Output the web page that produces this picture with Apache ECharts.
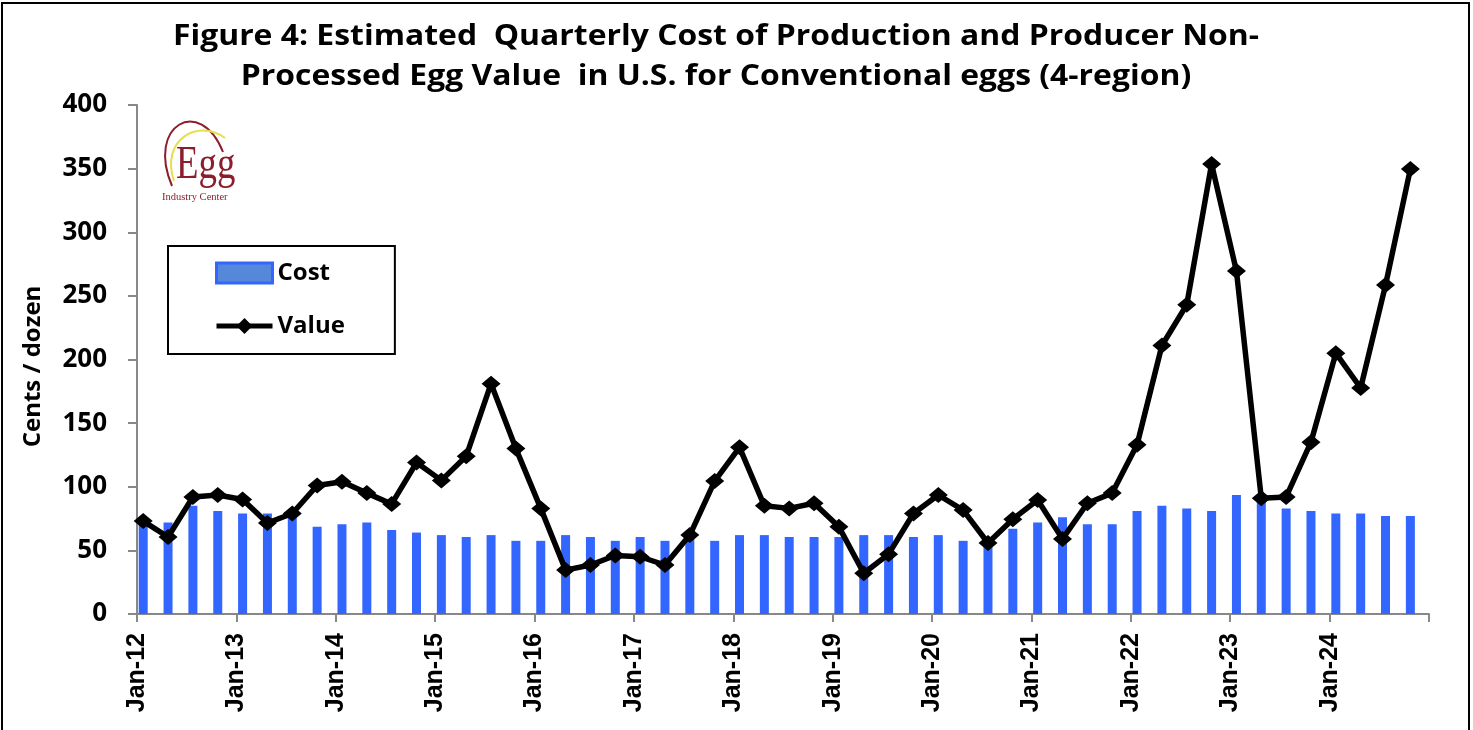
<!DOCTYPE html>
<html>
<head>
<meta charset="utf-8">
<title>Egg cost vs value</title>
<script src="https://cdn.jsdelivr.net/npm/echarts@6/dist/echarts.min.js"></script>
<style>
  html, body { margin: 0; padding: 0; background: #fff; }
  #chart { width: 1473px; height: 730px; }
</style>
</head>
<body>
<div id="chart"></div>
<script>
// quarterly data, Jan-12 .. Oct-24 (cents / dozen)
var titleLines = [
  'Figure 4: Estimated  Quarterly Cost of Production and Producer Non-',
  'Processed Egg Value  in U.S. for Conventional eggs (4-region)'
];
var tickLabels = ['Jan-12', 'Jan-13', 'Jan-14', 'Jan-15', 'Jan-16', 'Jan-17', 'Jan-18',
  'Jan-19', 'Jan-20', 'Jan-21', 'Jan-22', 'Jan-23', 'Jan-24'];
var cost = [72, 72, 85, 81, 79, 79, 78, 68.5, 70.5, 72, 66, 64, 62, 60.5, 62, 57.5,
  57.5, 62, 60.5, 57.5, 60.5, 57.5, 60, 57.5, 62, 62, 60.5, 60.5, 60.5, 62, 62, 60.5,
  62, 57.5, 57, 67, 72, 76, 70.5, 70.5, 81, 85, 83, 81, 93.5, 90, 83, 81, 79, 79, 77, 77];
var value = [73, 60.5, 92, 93.5, 90, 71.5, 79, 101, 104, 95, 86.5, 119, 105, 124, 181, 130,
  83, 34.5, 38.5, 46, 45, 38.5, 62, 104.5, 131, 85, 83, 87, 68.5, 32, 47, 79,
  93.5, 81.7, 55.8, 74.5, 89.6, 59, 87, 95, 133, 211, 243, 353.6, 269.5, 91, 92, 135,
  205, 177.6, 258.5, 349.7];

// x axis is in quarters since Jan-12; each point sits a little into its quarter
var QTR_OFFSET = 0.25;
function toXY(arr) {
  return arr.map(function (v, i) { return [i + QTR_OFFSET, v]; });
}

var chart = echarts.init(document.getElementById('chart'));
var maroon = '#8c1d2c';
var titleFont = { fontFamily: 'Open Sans', fontWeight: 'bold', fontSize: 29, fill: '#000', align: 'center', verticalAlign: 'middle' };

chart.setOption({
  animation: false,
  legend: {
    orient: 'vertical',
    left: 168,
    top: 246,
    padding: [15, 50, 16, 46],
    itemWidth: 56,
    itemHeight: 20,
    itemGap: 29,
    itemTextGap: 0,
    borderColor: '#000',
    borderWidth: 2,
    textStyle: { fontFamily: 'Open Sans', fontWeight: 'bold', fontSize: 24, color: '#000' },
    data: [
      { name: 'Cost', icon: 'rect', itemStyle: { borderWidth: 3 } },
      { name: 'Value', lineStyle: { width: 5 } }
    ]
  },
  grid: { left: 137, right: 44, top: 105, bottom: 116 },
  xAxis: {
    type: 'value',
    min: 0,
    max: 52,
    interval: 4,
    splitLine: { show: false },
    axisLine: { lineStyle: { color: '#888', width: 2 } },
    axisTick: { length: 8, lineStyle: { color: '#888', width: 2 } },
    axisLabel: {
      rotate: 90,
      margin: 19,
      padding: [12, 0, 0, 0],
      fontFamily: 'Liberation Sans',
      fontWeight: 'bold',
      fontSize: 25,
      color: '#000',
      formatter: function (v) { return tickLabels[v / 4] || ''; }
    }
  },
  yAxis: {
    type: 'value',
    min: 0,
    max: 400,
    interval: 50,
    name: 'Cents / dozen',
    nameLocation: 'middle',
    nameGap: 92,
    nameTextStyle: { fontFamily: 'Open Sans', fontWeight: 'bold', fontSize: 24, color: '#000', padding: [0, 14, 0, 0] },
    splitLine: { show: false },
    axisLine: { show: true, lineStyle: { color: '#888', width: 2 } },
    axisTick: { show: true, length: 9, lineStyle: { color: '#888', width: 2 } },
    axisLabel: { margin: 30, fontFamily: 'Open Sans', fontWeight: 'bold', fontSize: 26, color: '#000' }
  },
  series: [
    {
      name: 'Cost',
      type: 'bar',
      barWidth: 9,
      data: toXY(cost),
      itemStyle: { color: '#5588d8', borderColor: '#3366ff', borderWidth: 5 }
    },
    {
      name: 'Value',
      type: 'line',
      data: toXY(value),
      symbol: 'diamond',
      symbolSize: [19, 16],
      lineStyle: { color: '#000', width: 5.5 },
      itemStyle: { color: '#000' }
    }
  ],
  graphic: [
    {
      type: 'rect',
      silent: true,
      shape: { x: 2, y: 3, width: 1467, height: 760 },
      style: { fill: 'none', stroke: '#000', lineWidth: 2 }
    },
    // title, slightly widened like the original
    { type: 'text', x: 716, y: 37, scaleX: 1.1, style: Object.assign({ text: titleLines[0] }, titleFont) },
    { type: 'text', x: 716, y: 77, scaleX: 1.1, style: Object.assign({ text: titleLines[1] }, titleFont) },
    // Egg Industry Center logo, drawn roughly
    {
      type: 'group',
      silent: true,
      children: [
        {
          type: 'bezierCurve',
          shape: { x1: 172, y1: 186, cpx1: 146, cpy1: 125, cpx2: 200, cpy2: 95, x2: 223, y2: 152 },
          style: { stroke: maroon, lineWidth: 2, fill: 'none' }
        },
        {
          type: 'bezierCurve',
          shape: { x1: 174, y1: 181, cpx1: 160, cpy1: 140, cpx2: 198, cpy2: 118, x2: 225, y2: 138 },
          style: { stroke: '#e6de4a', lineWidth: 2, fill: 'none' }
        },
        {
          type: 'text',
          x: 176, y: 166, scaleX: 0.8,
          style: { text: 'Egg', fontFamily: 'Liberation Serif', fontSize: 46, fill: maroon, verticalAlign: 'middle' }
        },
        {
          type: 'text',
          x: 162, y: 197,
          style: { text: 'Industry Center', fontFamily: 'Liberation Serif', fontSize: 10.5, fill: maroon, verticalAlign: 'middle' }
        }
      ]
    }
  ]
});
</script>
</body>
</html>
